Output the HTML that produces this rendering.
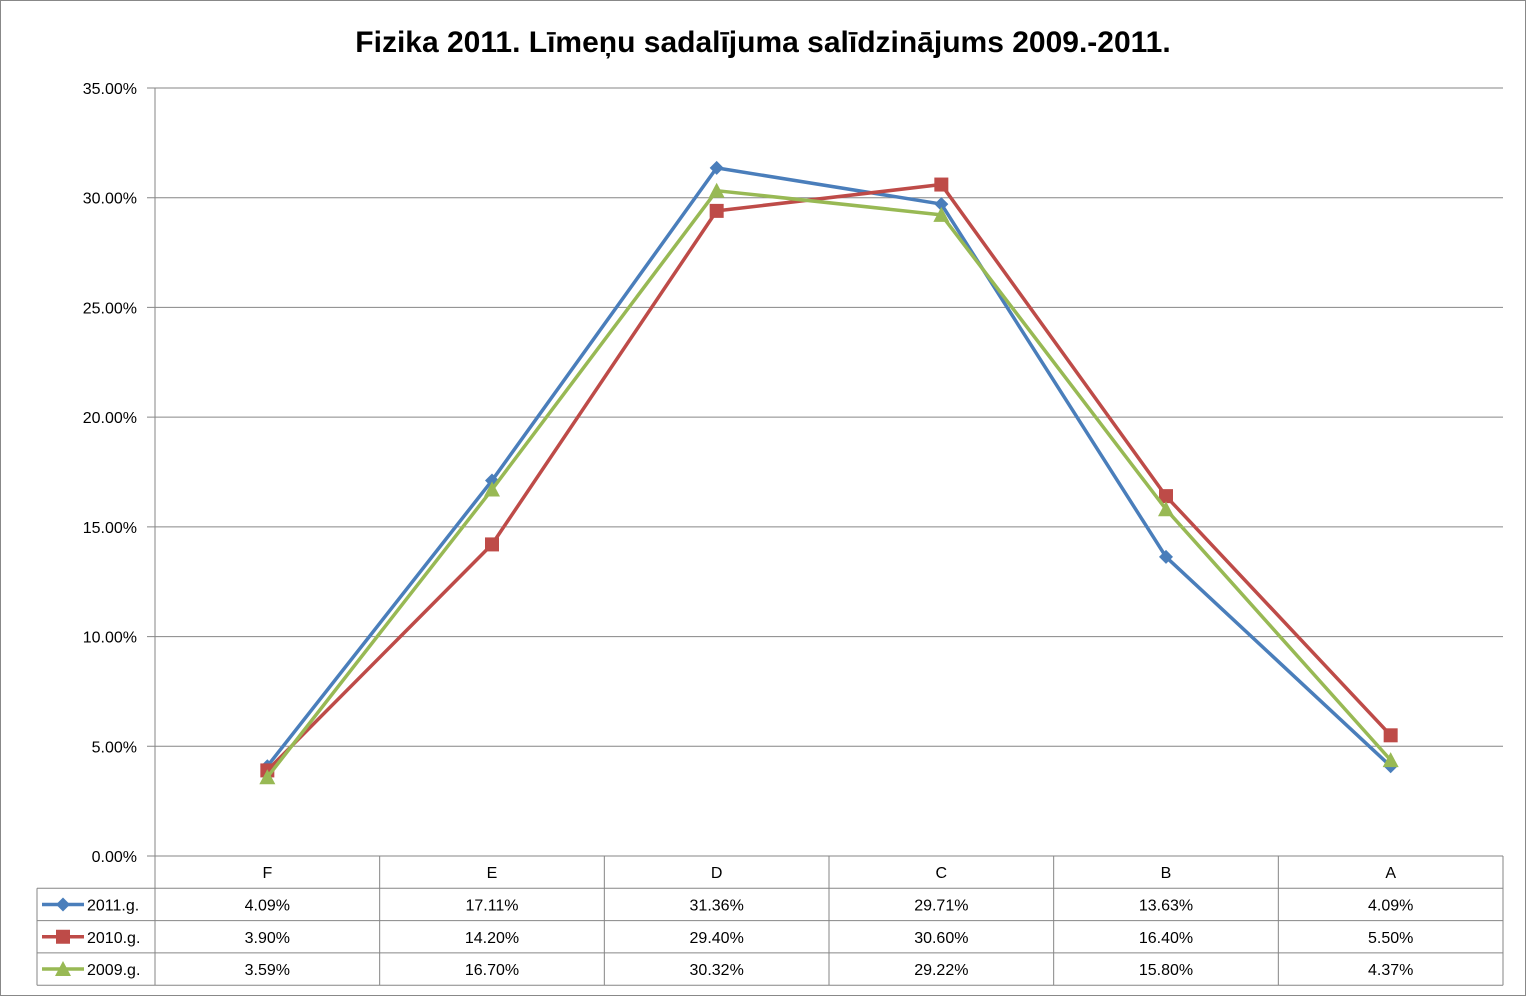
<!DOCTYPE html>
<html><head><meta charset="utf-8"><style>
body{margin:0;background:#fff;}
svg{display:block;font-family:"Liberation Sans",sans-serif;}
</style></head><body>
<svg id="chart" width="1527" height="997" viewBox="0 0 1527 997">
<rect x="0.5" y="0.5" width="1525" height="995" fill="#fff" stroke="#888"/>
<text x="763" y="52" text-anchor="middle" font-size="30" font-weight="bold" fill="#000">Fizika 2011. Līmeņu sadalījuma salīdzinājums 2009.-2011.</text>
<g id="grid"></g><g id="table"></g><g id="series"></g>
</svg>
<script>
const categories=["F","E","D","C","B","A"];
const seriesNames=["2011.g.","2010.g.","2009.g."];
const s2011=[4.09,17.11,31.36,29.71,13.63,4.09];
const s2010=[3.90,14.20,29.40,30.60,16.40,5.50];
const s2009=[3.59,16.70,30.32,29.22,15.80,4.37];
const yTicks=[0,5,10,15,20,25,30,35];
const NS="http://www.w3.org/2000/svg";
const L=155,R=1503,T=88,B=856,yMax=35;
const cw=(R-L)/categories.length;
const xs=i=>L+cw*(i+0.5);
const ys=v=>B-(v/yMax)*(B-T);
function mk(tag,attrs,parent){const e=document.createElementNS(NS,tag);for(const k in attrs)e.setAttribute(k,attrs[k]);parent.appendChild(e);return e;}
const grid=document.getElementById('grid'),table=document.getElementById('table'),ser=document.getElementById('series');
yTicks.forEach(t=>{
 const y=ys(t);
 const ln=mk('line',{x1:L-8,x2:R,y1:y,y2:y,stroke:'#868686','stroke-width':1},grid);
 
 
 const tx=mk('text',{x:137,y:y+6,'text-anchor':'end','font-size':16,fill:'#000'},grid);
 tx.textContent=t.toFixed(2)+'%';
 
 
});
const ax=mk('line',{x1:L,x2:L,y1:T,y2:B,stroke:'#868686'},grid);


// table
const rowH=32.3, rows=[B,B+rowH,B+2*rowH,B+3*rowH,B+4*rowH];
rows.forEach((y,i)=>{const l=mk('line',{x1:i===0?L:37,x2:R,y1:y,y2:y,stroke:'#868686'},table);});
for(let i=0;i<=categories.length;i++){const x=L+cw*i;const l=mk('line',{x1:x,x2:x,y1:B,y2:rows[4],stroke:'#868686'},table);}
mk('line',{x1:37,x2:37,y1:rows[1],y2:rows[4],stroke:'#868686'},table);
categories.forEach((c,i)=>{const t=mk('text',{x:xs(i),y:B+22,'text-anchor':'middle','font-size':16},table);t.textContent=c;});
const colors=["#4a7ebb","#be4b48","#98b954"];
const data=[s2011,s2010,s2009];
function marker(k,x,y,parent){
 if(k===0)return mk('polygon',{points:`${x},${y-7} ${x+7},${y} ${x},${y+7} ${x-7},${y}`,fill:colors[0]},parent);
 if(k===1)return mk('rect',{x:x-7,y:y-7,width:14,height:14,fill:colors[1]},parent);
 return mk('polygon',{points:`${x},${y-8} ${x+8},${y+7} ${x-8},${y+7}`,fill:colors[2]},parent);
}
data.forEach((arr,k)=>{
 const g=mk('g',{},ser);
 
 
 const p=mk('polyline',{points:arr.map((v,i)=>xs(i)+','+ys(v)).join(' '),fill:'none',stroke:colors[k],'stroke-width':3.5,'stroke-linejoin':'round'},g);
 
 
 arr.forEach((v,i)=>{const m=marker(k,xs(i),ys(v),g);});
 const ry=rows[k+1]+rowH/2;
 const lk=mk('line',{x1:42,x2:84,y1:ry,y2:ry,stroke:colors[k],'stroke-width':3.5},table);
 
 
 const mm=marker(k,63,ry,table);
 const lt=mk('text',{x:87,y:ry+6,'font-size':16},table);lt.textContent=seriesNames[k];
 
 
 arr.forEach((v,i)=>{const t=mk('text',{x:xs(i),y:ry+6,'text-anchor':'middle','font-size':16},table);t.textContent=v.toFixed(2)+'%';});
});
</script>
</body></html>
